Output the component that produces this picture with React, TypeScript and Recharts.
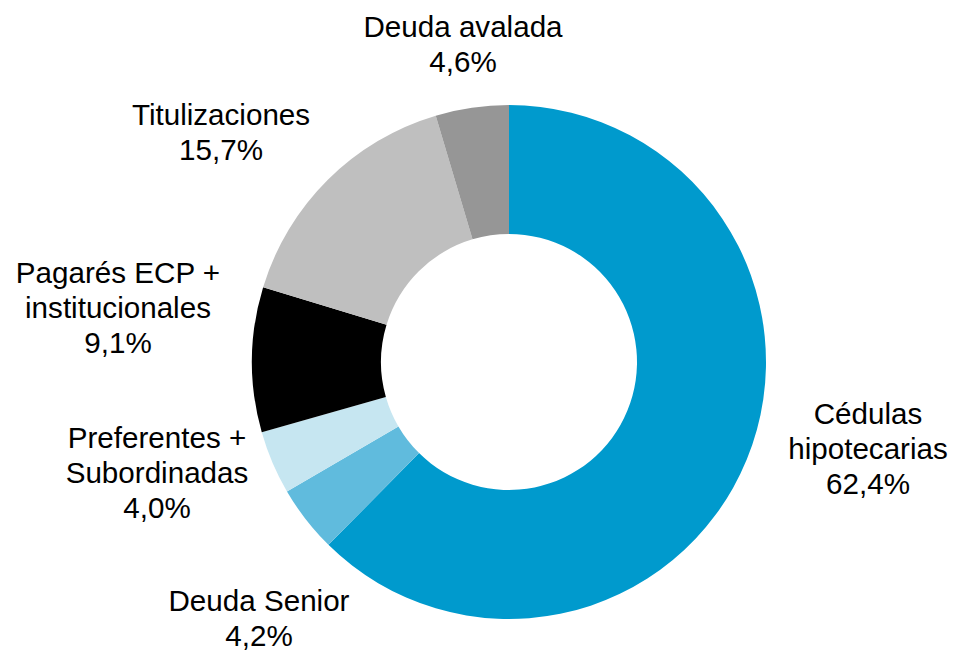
import { PieChart, Pie, Cell } from 'recharts';

const names = [
  ['Cédulas', 'hipotecarias'],
  ['Deuda Senior'],
  ['Preferentes +', 'Subordinadas'],
  ['Pagarés ECP +', 'institucionales'],
  ['Titulizaciones'],
  ['Deuda avalada'],
];
const values = [62.4, 4.2, 4.0, 9.1, 15.7, 4.6];
const colors = ['#009ACD', '#60BBDD', '#C6E6F1', '#000000', '#BFBFBF', '#969696'];

// label block centre, relative to the pie centre
const labelOffsets: [number, number][] = [
  [359, 86],
  [-250, 256],
  [-352, 110],
  [-391, -55],
  [-288, -230],
  [-46, -318],
];

const data = values.map((v, i) => ({ name: names[i].join(' '), value: v }));

const fmt = (v: number) => v.toFixed(1).replace('.', ',') + '%';

const LINE = 35;

const renderLabel = (props: any) => {
  const { cx, cy, index } = props;
  const lines = [...names[index], fmt(values[index])];
  const [dx, dy] = labelOffsets[index];
  const top = cy + dy - ((lines.length - 1) * LINE) / 2;
  return (
    <text
      key={`lbl-${index}`}
      x={cx + dx}
      y={top}
      textAnchor="middle"
      fill="#000"
      fontSize={29.6}
      fontFamily="'Liberation Sans', Arial, sans-serif"
    >
      {lines.map((l, i) => (
        <tspan key={i} x={cx + dx} y={top + i * LINE} dominantBaseline="central">
          {l}
        </tspan>
      ))}
    </text>
  );
};

export default function App() {
  return (
    <div style={{ width: 954, height: 652, background: '#fff', overflow: 'hidden' }}>
      <style>{'body{margin:0;overflow:hidden}'}</style>
      <PieChart width={954} height={652} margin={{ top: 0, right: 0, bottom: 0, left: 0 }}>
        <Pie
          data={data}
          dataKey="value"
          cx={509}
          cy={362}
          innerRadius={128}
          outerRadius={257}
          startAngle={90}
          endAngle={-270}
          stroke="none"
          label={renderLabel}
          labelLine={false}
          isAnimationActive={false}
        >
          {data.map((d, i) => (
            <Cell key={`cell-${i}`} fill={colors[i]} />
          ))}
        </Pie>
      </PieChart>
    </div>
  );
}
